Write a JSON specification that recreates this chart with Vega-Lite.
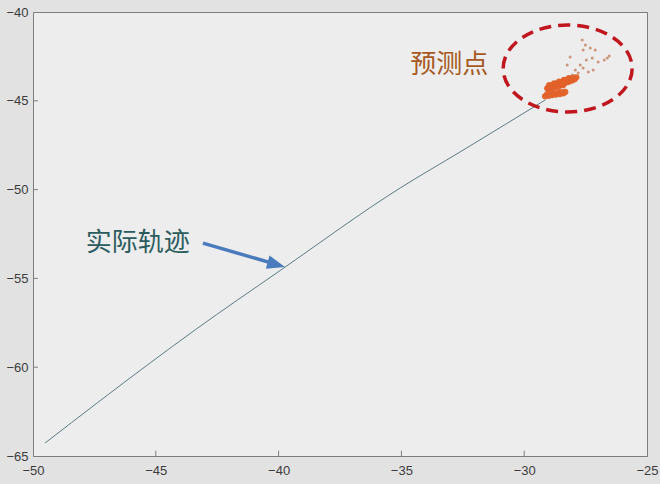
{
  "$schema": "https://vega.github.io/schema/vega-lite/v6.json",
  "width": 614,
  "height": 444,
  "autosize": {"type": "none"},
  "padding": {"left": 33, "top": 12, "right": 13, "bottom": 28},
  "background": "#e2e2e2",
  "config": {
    "view": {"fill": "#ededed", "stroke": "#7d7d7d", "strokeWidth": 1},
    "axis": {
      "grid": false,
      "domainColor": "#7d7d7d",
      "tickColor": "#7d7d7d",
      "labelFont": "Liberation Sans",
      "labelFontSize": 13,
      "labelColor": "#3c3c3c",
      "title": null
    }
  },
  "resolve": {"scale": {"color": "independent", "size": "independent", "opacity": "independent"}},
  "datasets": {
    "traj": [
      {"x": -49.51, "y": -64.27},
      {"x": -45.23, "y": -59.76},
      {"x": -43.40, "y": -57.90},
      {"x": -39.94, "y": -54.56},
      {"x": -35.05, "y": -49.91},
      {"x": -32.61, "y": -47.88},
      {"x": -29.14, "y": -44.95}
    ],
    "xticks": [{"v": -45}, {"v": -40}, {"v": -35}, {"v": -30}],
    "yticks": [{"v": -60}, {"v": -55}, {"v": -50}, {"v": -45}],
    "pred": [
      {"x": -29.06, "y": -44.30, "kind": "dense"},
      {"x": -29.00, "y": -44.20, "kind": "dense"},
      {"x": -28.95, "y": -44.30, "kind": "dense"},
      {"x": -28.90, "y": -44.15, "kind": "dense"},
      {"x": -28.85, "y": -44.25, "kind": "dense"},
      {"x": -28.80, "y": -44.10, "kind": "dense"},
      {"x": -28.75, "y": -44.20, "kind": "dense"},
      {"x": -28.70, "y": -44.05, "kind": "dense"},
      {"x": -28.65, "y": -44.15, "kind": "dense"},
      {"x": -28.60, "y": -44.00, "kind": "dense"},
      {"x": -28.55, "y": -44.10, "kind": "dense"},
      {"x": -28.50, "y": -43.95, "kind": "dense"},
      {"x": -28.45, "y": -44.05, "kind": "dense"},
      {"x": -28.40, "y": -43.90, "kind": "dense"},
      {"x": -28.35, "y": -44.00, "kind": "dense"},
      {"x": -28.30, "y": -43.85, "kind": "dense"},
      {"x": -28.25, "y": -43.95, "kind": "dense"},
      {"x": -28.20, "y": -43.80, "kind": "dense"},
      {"x": -28.15, "y": -43.90, "kind": "dense"},
      {"x": -28.10, "y": -43.75, "kind": "dense"},
      {"x": -28.05, "y": -43.85, "kind": "dense"},
      {"x": -28.00, "y": -43.70, "kind": "dense"},
      {"x": -27.95, "y": -43.78, "kind": "dense"},
      {"x": -27.88, "y": -43.68, "kind": "dense"},
      {"x": -28.98, "y": -44.12, "kind": "dense"},
      {"x": -28.78, "y": -44.02, "kind": "dense"},
      {"x": -28.58, "y": -43.92, "kind": "dense"},
      {"x": -28.38, "y": -43.82, "kind": "dense"},
      {"x": -28.18, "y": -43.72, "kind": "dense"},
      {"x": -29.02, "y": -44.36, "kind": "dense"},
      {"x": -28.82, "y": -44.30, "kind": "dense"},
      {"x": -28.62, "y": -44.22, "kind": "dense"},
      {"x": -28.42, "y": -44.12, "kind": "dense"},
      {"x": -29.15, "y": -44.75, "kind": "dense"},
      {"x": -29.08, "y": -44.65, "kind": "dense"},
      {"x": -29.00, "y": -44.72, "kind": "dense"},
      {"x": -28.92, "y": -44.60, "kind": "dense"},
      {"x": -28.85, "y": -44.68, "kind": "dense"},
      {"x": -28.78, "y": -44.58, "kind": "dense"},
      {"x": -28.70, "y": -44.65, "kind": "dense"},
      {"x": -28.62, "y": -44.55, "kind": "dense"},
      {"x": -28.55, "y": -44.62, "kind": "dense"},
      {"x": -28.48, "y": -44.52, "kind": "dense"},
      {"x": -28.40, "y": -44.58, "kind": "dense"},
      {"x": -28.33, "y": -44.50, "kind": "dense"},
      {"x": -27.64, "y": -41.58, "kind": "sparse"},
      {"x": -27.60, "y": -42.14, "kind": "sparse"},
      {"x": -27.31, "y": -42.03, "kind": "sparse"},
      {"x": -27.23, "y": -42.59, "kind": "sparse"},
      {"x": -26.62, "y": -42.59, "kind": "sparse"},
      {"x": -26.54, "y": -42.48, "kind": "sparse"},
      {"x": -26.74, "y": -42.70, "kind": "sparse"},
      {"x": -27.72, "y": -42.98, "kind": "sparse"},
      {"x": -27.60, "y": -43.15, "kind": "sparse"},
      {"x": -27.80, "y": -43.43, "kind": "sparse"},
      {"x": -27.19, "y": -43.27, "kind": "sparse"},
      {"x": -28.13, "y": -42.53, "kind": "sparse"},
      {"x": -28.25, "y": -42.98, "kind": "sparse"},
      {"x": -27.92, "y": -43.27, "kind": "sparse"},
      {"x": -27.47, "y": -42.70, "kind": "sparse"},
      {"x": -27.39, "y": -43.38, "kind": "sparse"},
      {"x": -28.04, "y": -43.55, "kind": "sparse"},
      {"x": -27.11, "y": -42.14, "kind": "sparse"},
      {"x": -26.99, "y": -42.82, "kind": "sparse"},
      {"x": -27.51, "y": -41.86, "kind": "sparse"}
    ],
    "ellipse": [{"x": -28.23, "y": -43.18}],
    "arrow": [{"x": -43.08, "y": -53.01, "x2": -40.13, "y2": -54.20, "tx": -39.74, "ty": -54.36}],
    "labels": [
      {"x": -33.05, "y": -42.98, "text": "预测点", "who": "pred"},
      {"x": -45.74, "y": -53.03, "text": "实际轨迹", "who": "traj"}
    ]
  },
  "layer": [
    {
      "data": {"name": "traj"},
      "mark": {"type": "line", "color": "#5a7c84", "strokeWidth": 1, "interpolate": "monotone"},
      "encoding": {
        "x": {"field": "x", "type": "quantitative", "scale": {"domain": [-50, -25], "nice": false, "zero": false},
              "axis": {"values": [-50, -45, -40, -35, -30, -25], "tickSize": 0, "labelPadding": 8, "labelFlush": false}},
        "y": {"field": "y", "type": "quantitative", "scale": {"domain": [-65, -40], "nice": false, "zero": false},
              "axis": {"values": [-65, -60, -55, -50, -45, -40], "tickSize": 0, "labelPadding": 5, "labelFlush": false}}
      }
    },
    {
      "data": {"name": "xticks"},
      "mark": {"type": "rule", "color": "#7d7d7d", "strokeWidth": 1},
      "encoding": {
        "x": {"field": "v", "type": "quantitative"},
        "y": {"datum": -65},
        "y2": {"datum": -64.7}
      }
    },
    {
      "data": {"name": "yticks"},
      "mark": {"type": "rule", "color": "#7d7d7d", "strokeWidth": 1},
      "encoding": {
        "y": {"field": "v", "type": "quantitative"},
        "x": {"datum": -50},
        "x2": {"datum": -49.8}
      }
    },
    {
      "data": {"name": "pred"},
      "mark": {"type": "circle"},
      "encoding": {
        "x": {"field": "x", "type": "quantitative"},
        "y": {"field": "y", "type": "quantitative"},
        "color": {"field": "kind", "type": "nominal", "scale": {"domain": ["dense", "sparse"], "range": ["#e2612a", "#c27a55"]}, "legend": null},
        "size": {"field": "kind", "type": "nominal", "scale": {"domain": ["dense", "sparse"], "range": [40, 9]}, "legend": null},
        "opacity": {"field": "kind", "type": "nominal", "scale": {"domain": ["dense", "sparse"], "range": [0.95, 0.75]}, "legend": null}
      }
    },
    {
      "data": {"name": "ellipse"},
      "mark": {"type": "point", "shape": "M-1,0A1,0.674,0,1,1,1,0A1,0.674,0,1,1,-1,0Z", "size": 16641, "filled": false, "stroke": "#c0161e", "strokeWidth": 3.5, "strokeDash": [12, 7], "opacity": 1},
      "encoding": {
        "x": {"field": "x", "type": "quantitative"},
        "y": {"field": "y", "type": "quantitative"}
      }
    },
    {
      "data": {"name": "arrow"},
      "mark": {"type": "rule", "color": "#4a7bbd", "strokeWidth": 3.5},
      "encoding": {
        "x": {"field": "x", "type": "quantitative"},
        "y": {"field": "y", "type": "quantitative"},
        "x2": {"field": "x2"},
        "y2": {"field": "y2"}
      }
    },
    {
      "data": {"name": "arrow"},
      "mark": {"type": "point", "shape": "M0,0L-1,-0.38L-1,0.38Z", "size": 1296, "filled": true, "color": "#4a7bbd", "opacity": 1, "angle": 16},
      "encoding": {
        "x": {"field": "tx", "type": "quantitative"},
        "y": {"field": "ty", "type": "quantitative"}
      }
    },
    {
      "data": {"name": "labels"},
      "mark": {"type": "text", "font": "Noto Sans CJK SC", "fontSize": 26, "align": "center", "baseline": "middle"},
      "encoding": {
        "x": {"field": "x", "type": "quantitative"},
        "y": {"field": "y", "type": "quantitative"},
        "text": {"field": "text"},
        "color": {"field": "who", "type": "nominal", "scale": {"domain": ["pred", "traj"], "range": ["#a65a22", "#2b5c5e"]}, "legend": null}
      }
    }
  ]
}
